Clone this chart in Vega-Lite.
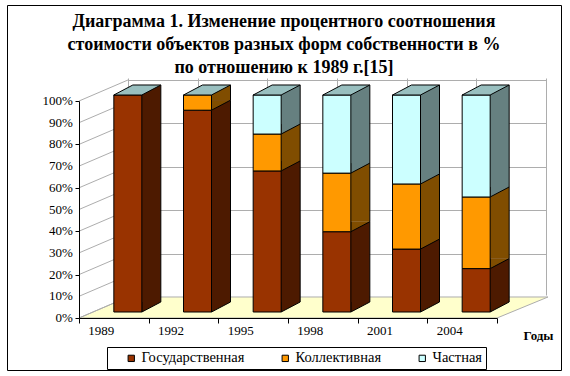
{
  "$schema": "https://vega.github.io/schema/vega-lite/v6.json",
  "width": 554,
  "height": 365,
  "autosize": {"type": "none"},
  "padding": {"left": 7, "top": 5, "right": 9, "bottom": 6},
  "background": "white",
  "config": {
    "view": {"stroke": "black", "strokeWidth": 1},
    "font": "Liberation Serif",
    "axis": {"labelFont": "Liberation Serif", "titleFont": "Liberation Serif", "labelFontSize": 13, "labelColor": "black"},
    "axisY": {"labels": false, "labelOverlap": false, "tickCount": 10},
    "legend": {"labelFont": "Liberation Serif", "labelFontSize": 14.5, "labelColor": "black"}
  },
  "title": {
    "text": ["Диаграмма 1. Изменение процентного соотношения", "стоимости объектов разных форм собственности в %", "по отношению к 1989 г.[15]"],
    "font": "Liberation Serif",
    "fontSize": 18,
    "fontWeight": "bold",
    "color": "black",
    "anchor": "middle",
    "frame": "group",
    "baseline": "top",
    "lineHeight": 23,
    "offset": -72
  },
  "datasets": {
    "main": [
      {"year": "1989", "form": "Государственная", "pct": 100},
      {"year": "1992", "form": "Государственная", "pct": 93},
      {"year": "1992", "form": "Коллективная", "pct": 7},
      {"year": "1995", "form": "Государственная", "pct": 65},
      {"year": "1995", "form": "Коллективная", "pct": 17},
      {"year": "1995", "form": "Частная", "pct": 18},
      {"year": "1998", "form": "Государственная", "pct": 37},
      {"year": "1998", "form": "Коллективная", "pct": 27},
      {"year": "1998", "form": "Частная", "pct": 36},
      {"year": "2001", "form": "Государственная", "pct": 29},
      {"year": "2001", "form": "Коллективная", "pct": 30},
      {"year": "2001", "form": "Частная", "pct": 41},
      {"year": "2004", "form": "Государственная", "pct": 20},
      {"year": "2004", "form": "Коллективная", "pct": 33},
      {"year": "2004", "form": "Частная", "pct": 47}
    ],
    "ticks": [
      {"tick": 0, "label": "0%"}, {"tick": 10, "label": "10%"}, {"tick": 20, "label": "20%"}, {"tick": 30, "label": "30%"},
      {"tick": 40, "label": "40%"}, {"tick": 50, "label": "50%"}, {"tick": 60, "label": "60%"}, {"tick": 70, "label": "70%"},
      {"tick": 80, "label": "80%"}, {"tick": 90, "label": "90%"}, {"tick": 100, "label": "100%"}
    ]
  },
  "layer": [
    {
      "data": {"name": "main"},
      "mark": {"type": "point", "opacity": 0},
      "encoding": {
        "x": {"field": "year", "type": "ordinal",
              "scale": {"domain": ["1989", "1992", "1995", "1998", "2001", "2004"], "range": [121, 539], "paddingInner": 0, "paddingOuter": 0},
              "axis": {"grid": true, "tickBand": "extent", "labels": false, "ticks": false, "domain": false, "title": null, "gridColor": "#ADADAD", "gridOpacity": 1}},
        "y": {"field": "pct", "type": "quantitative",
              "scale": {"domain": [0, 100], "range": [292, 75], "nice": false, "zero": false},
              "axis": {"grid": true, "values": [0, 10, 20, 30, 40, 50, 60, 70, 80, 90, 100], "labels": false, "ticks": false, "domain": false, "title": null, "gridColor": "#ADADAD", "gridOpacity": 1}}
      }
    },
    {
      "data": {"name": "main"},
      "transform": [
        {"stack": "pct", "groupby": ["year"], "sort": [{"field": "form", "order": "ascending"}], "as": ["y0", "y1"]}
      ],
      "layer": [
        {
          "layer": [
            {
              "data": {"name": "ticks"},
              "transform": [{"filter": "datum.tick == 0"}],
              "mark": {"type": "point", "filled": true, "opacity": 1, "fill": "#FFFFCC", "stroke": "#ADADAD", "strokeWidth": 1,
                       "shape": "M 0 0 L 0.8913 0 L 1 -0.0448 L 0.1045 -0.0448 Z", "size": 879844, "xOffset": -34.83},
              "encoding": {
                "x": {"datum": "1989", "type": "ordinal"},
                "y": {"field": "tick", "type": "quantitative",
                      "axis": {"orient": "left", "offset": -72, "values": [0, 10, 20, 30, 40, 50, 60, 70, 80, 90, 100], "labels": false,
                               "domainColor": "black", "tickColor": "black", "tickSize": 4, "title": null, "grid": false, "zindex": 1}}
              }
            },
            {
              "data": {"name": "ticks"},
              "mark": {"type": "point", "filled": false, "opacity": 1, "stroke": "#ADADAD", "strokeWidth": 1,
                       "shape": "M 0 0 L 1 -0.4286", "size": 9604, "xOffset": -34.83},
              "encoding": {
                "x": {"datum": "1989", "type": "ordinal"},
                "y": {"field": "tick", "type": "quantitative"}
              }
            },
            {
              "mark": {"type": "bar", "size": 28, "xOffset": 33, "yOffset": -16, "y2Offset": -16, "strokeWidth": 0},
              "encoding": {
                "x": {"field": "year", "type": "ordinal"},
                "y": {"field": "y0", "type": "quantitative"},
                "y2": {"field": "y1"},
                "color": {"field": "form", "type": "nominal",
                          "scale": {"domain": ["Государственная", "Коллективная", "Частная"], "range": ["#4D1A00", "#804D00", "#668080"]},
                          "legend": null}
              }
            },
            {
              "mark": {"type": "point", "filled": true, "opacity": 1, "stroke": "black", "strokeWidth": 1,
                       "shape": "M 1 -0.5263 L 0 0 L 0 -0.5263", "size": 1444, "xOffset": 28, "yOffset": -6},
              "encoding": {
                "x": {"field": "year", "type": "ordinal"},
                "y": {"field": "y0", "type": "quantitative"},
                "fill": {"field": "form", "type": "nominal",
                         "scale": {"domain": ["Государственная", "Коллективная", "Частная"], "range": ["#4D1A00", "#804D00", "#668080"]},
                         "legend": null}
              }
            }
          ]
        },
        {
          "layer": [
            {
              "mark": {"type": "rule", "color": "black", "strokeWidth": 1, "xOffset": 47, "yOffset": -16, "y2Offset": -16},
              "encoding": {
                "x": {"field": "year", "type": "ordinal"},
                "y": {"field": "y0", "type": "quantitative"},
                "y2": {"field": "y1"}
              }
            },
            {
              "mark": {"type": "bar", "size": 28, "xOffset": 14, "yOffset": -6, "y2Offset": -6, "stroke": "black", "strokeWidth": 1},
              "encoding": {
                "x": {"field": "year", "type": "ordinal",
                      "scale": {"domain": ["1989", "1992", "1995", "1998", "2001", "2004"], "range": [72, 490], "paddingInner": 0, "paddingOuter": 0},
                      "axis": {"orient": "bottom", "offset": -52, "tickBand": "extent", "domainColor": "black", "tickColor": "black", "tickSize": 5,
                               "labelAngle": 0, "labelFont": "Liberation Serif", "labelFontSize": 13, "labelColor": "black", "labelPadding": 7,
                               "title": "Годы", "titleFont": "Liberation Serif", "titleFontSize": 13, "titleFontWeight": "bold", "titleColor": "black",
                               "titleX": 531, "titleY": 17, "titleBaseline": "middle", "titleAlign": "center", "grid": false, "zindex": 1}},
                "y": {"field": "y0", "type": "quantitative",
                      "scale": {"domain": [0, 100], "range": [313, 96], "nice": false, "zero": false},
                      "axis": {"orient": "left", "offset": -72, "values": [0, 10, 20, 30, 40, 50, 60, 70, 80, 90, 100], "labels": false,
                               "domainColor": "black", "tickColor": "black", "tickSize": 4, "title": null, "grid": false, "zindex": 1}},
                "y2": {"field": "y1"},
                "color": {"field": "form", "type": "nominal",
                          "scale": {"domain": ["Государственная", "Коллективная", "Частная"], "range": ["#993300", "#FF9900", "#CCFFFF"]},
                          "legend": {"orient": "none", "legendX": 100, "legendY": 342, "direction": "horizontal", "title": null,
                                     "strokeColor": "black", "padding": 4, "symbolOffset": 13, "symbolType": "square", "symbolSize": 40,
                                     "symbolStrokeColor": "black", "symbolStrokeWidth": 1, "symbolOpacity": 1, "symbolFillOpacity": 1,
                                     "labelFont": "Liberation Serif", "labelFontSize": 14.5, "labelColor": "black", "labelOffset": 3, "columnPadding": 20}}
              }
            },
            {
              "transform": [{"filter": "datum.y1 >= 99.9"}],
              "mark": {"type": "point", "filled": true, "opacity": 1, "fill": "#99BFBF", "stroke": "black", "strokeWidth": 1,
                       "shape": "M 0 0 L 0.5957 0 L 1 -0.2128 L 0.4043 -0.2128 Z", "size": 8836, "yOffset": -6},
              "encoding": {
                "x": {"field": "year", "type": "ordinal"},
                "y": {"field": "y1", "type": "quantitative"}
              }
            }
          ]
        }
      ],
      "resolve": {"scale": {"color": "independent", "fill": "independent"}, "legend": {"color": "independent", "fill": "independent"}}
    },
    {
      "data": {"name": "ticks"},
      "mark": {"type": "text", "align": "right", "baseline": "middle", "font": "Liberation Serif", "fontSize": 13, "color": "black", "xOffset": -41},
      "encoding": {
        "x": {"datum": "1989", "type": "ordinal",
              "scale": {"domain": ["1989", "1992", "1995", "1998", "2001", "2004"], "range": [72, 490], "paddingInner": 0, "paddingOuter": 0},
              "axis": null},
        "y": {"field": "tick", "type": "quantitative",
              "scale": {"domain": [0, 100], "range": [313, 96], "nice": false, "zero": false},
              "axis": null},
        "text": {"field": "label"}
      }
    }
  ],
  "resolve": {"scale": {"x": "independent", "y": "independent"}, "axis": {"x": "independent", "y": "independent"}}
}
